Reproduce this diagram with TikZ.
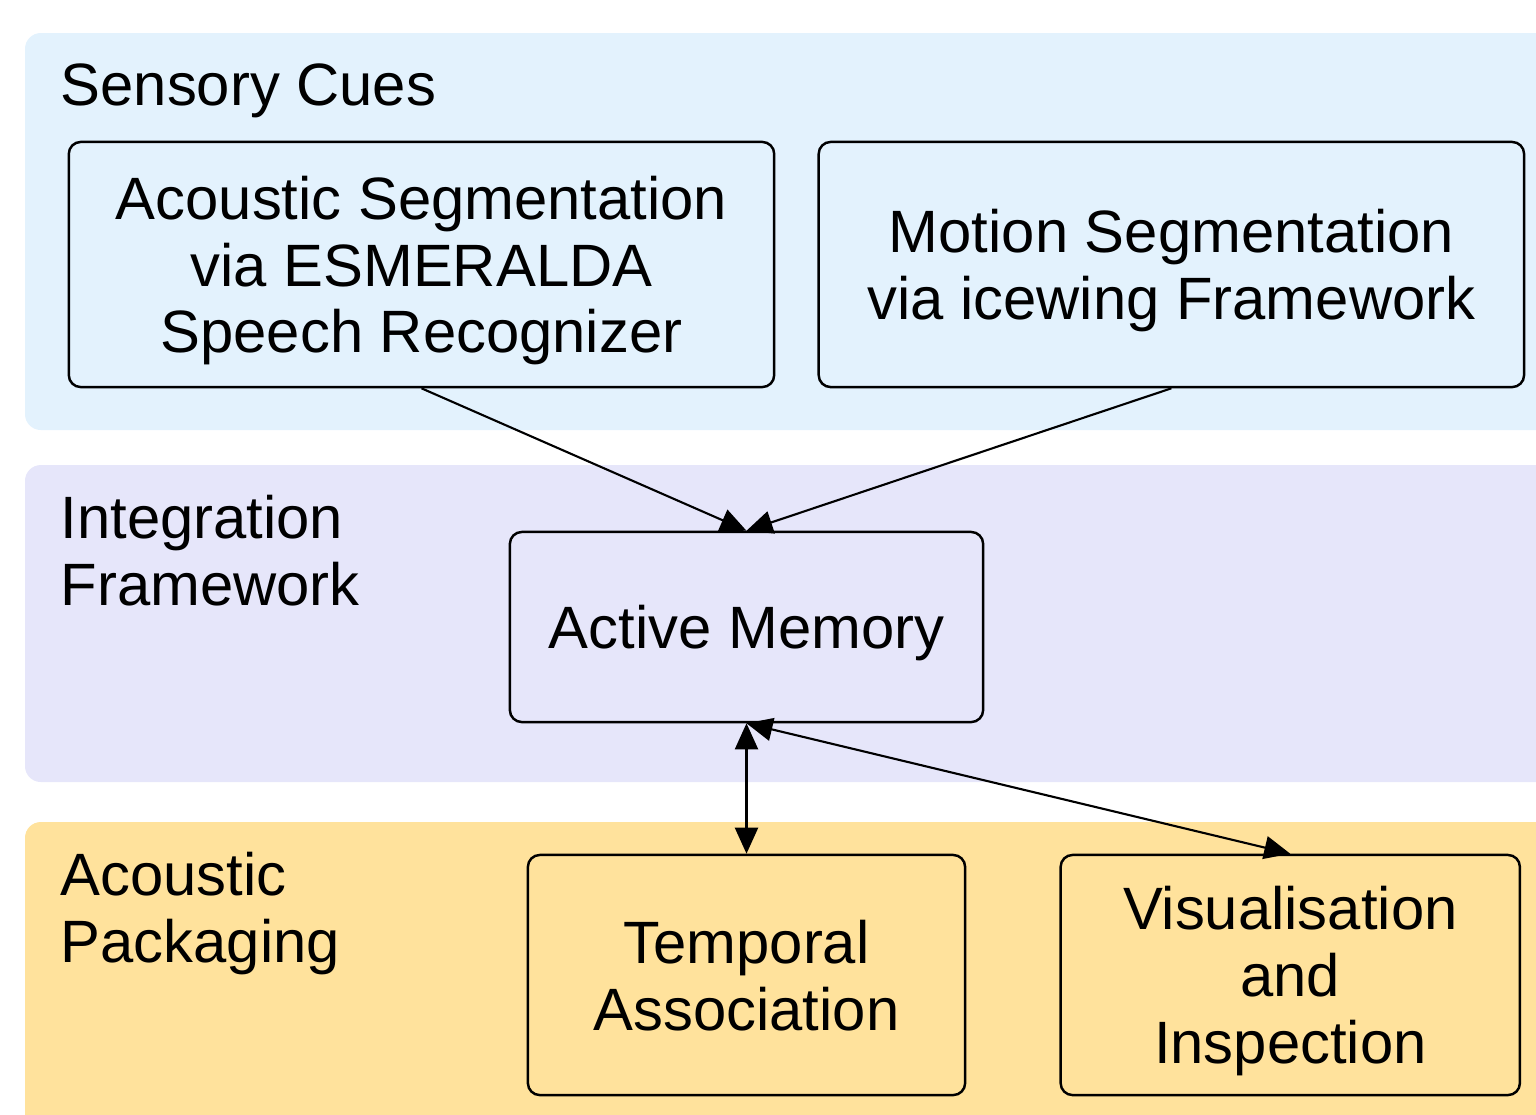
\documentclass[tikz,border=0pt]{standalone}
\usepackage{fontspec}
\setmainfont{Liberation Sans}
\usetikzlibrary{arrows.meta,positioning}
\definecolor{cuesblue}{HTML}{E3F2FD}
\definecolor{intlav}{HTML}{E6E6FA}
\definecolor{packyellow}{HTML}{FFE29C}

\begin{document}
\begin{tikzpicture}[
  x=0.01cm, y=-0.01cm,
  font=\fontsize{17}{19}\selectfont,
  band/.style={rounded corners=4.5pt},
  lbl/.style={anchor=base west, align=left, inner sep=0pt},
  box/.style={draw, line width=0.7pt, rounded corners=3.4pt, align=center, inner sep=0pt,
              text depth=0pt},
  ar/.style={line width=0.6pt, -{Triangle[length=2.6mm, width=2.3mm]}},
  biar/.style={line width=0.6pt, {Triangle[length=2.6mm, width=2.3mm]}-{Triangle[length=2.6mm, width=2.3mm]}}
]
\useasboundingbox (0,0) rectangle (1536,1114);

% background bands
\fill[band, cuesblue] (25,33) rectangle (1580,430);
\fill[band, intlav] (25,465) rectangle (1580,782);
\fill[band, packyellow] (25,822) rectangle (1580,1160);

% band labels (base = last line)
\node[lbl] (cueslbl) at (60,105) {Sensory Cues};
\node[lbl] (intlbl) at (60,605) {Integration\\Framework};
\node[lbl] (packlbl) at (60,962) {Acoustic\\Packaging};

% sensory cues
\node[box, minimum width=7.05cm, minimum height=2.45cm] (acous) at (421.5,264.5)
  {Acoustic Segmentation\\via ESMERALDA\\Speech Recognizer};
\node[box, minimum width=7.05cm, minimum height=2.45cm, right=0.42cm of acous] (motion)
  {Motion Segmentation\\via icewing Framework};

% integration
\node[box, minimum width=4.73cm, minimum height=1.9cm] (mem) at (746.5,627) {Active Memory};

% packaging
\node[box, minimum width=4.37cm, minimum height=2.4cm] (temp) at (746.5,975)
  {Temporal\\Association};
\node[box, minimum width=4.59cm, minimum height=2.4cm, right=0.93cm of temp] (vis)
  {Visualisation\\and\\Inspection};

\draw[ar] (acous.south) -- (mem.north);
\draw[ar] (motion.south) -- (mem.north);
\draw[biar] (mem.south) -- (temp.north);
\draw[biar] (mem.south) -- (vis.north);
\end{tikzpicture}
\end{document}
